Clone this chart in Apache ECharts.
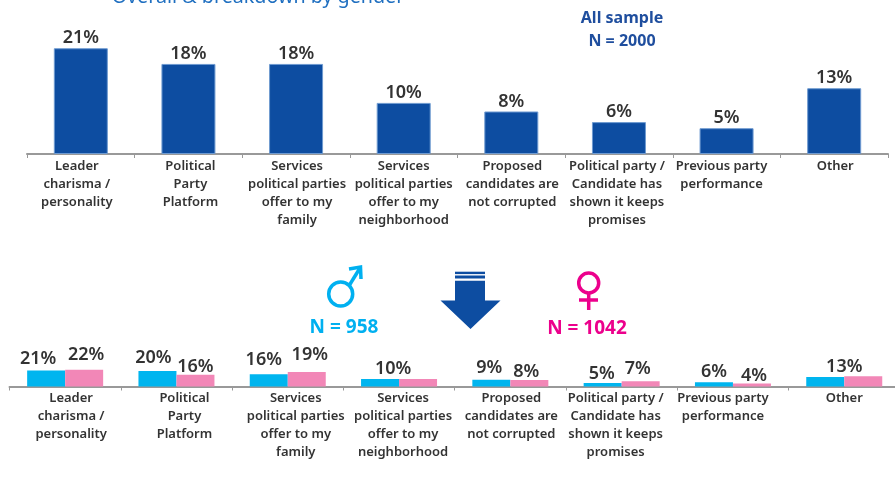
<!DOCTYPE html>
<html><head><meta charset="utf-8">
<style>html,body{margin:0;padding:0;background:#fff;overflow:hidden}#c{width:910px;height:482px}</style>
<script src="https://cdn.jsdelivr.net/npm/echarts@6/dist/echarts.min.js"></script>
</head><body><div id="c"></div>
<script>
const categories = ['Leader\ncharisma /\npersonality','Political\nParty\nPlatform','Services\npolitical parties\noffer to my\nfamily','Services\npolitical parties\noffer to my\nneighborhood','Proposed\ncandidates are\nnot corrupted','Political party /\nCandidate has\nshown it keeps\npromises','Previous party\nperformance','Other'];
const allSample = [20.9,17.8,17.8,10.1,8.4,6.3,5.1,13.0];
const male = [21,20.4,16,10,8.8,4.5,5.6,12.6];
const female = [22,15.6,19,10,8.4,6.8,4,13.4];
const sharedLabel = [3,7];
const topLabelShift = [-4,2,1,0,1,-2,-5,1];
const bottomLabelShift = [6,8,8,4,1,-6,-10,0];
const maleLabelShift = [[-8,-2],[-4,-3],[-5,-4],[13,0],[-2,-2],[-1,1],[0,0],[19,0]];
const femaleLabelShift = [[2,-5],[0,2],[3,-7],[0,0],[-3,2],[-3,-2],[2,2],[0,0]];
const DARK='#0d4da1', BLUE='#00b5ef', PINK='#f287b7', INK='#333', GREY='#999';
const FONT='"Noto Sans"';
const chart = echarts.init(document.getElementById('c'));
const pct = v => Math.round(v)+'%';
const axisData = shift => categories.map((c,i)=>({value:c,textStyle:{padding:shift[i]>=0?[0,0,0,2*shift[i]]:[0,-2*shift[i],0,0]}}));
const xAxisBase = gi => ({type:'category',gridIndex:gi,boundaryGap:true,
  axisLine:{show:true,lineStyle:{color:GREY,width:2}},
  axisTick:{show:true,length:4,lineStyle:{color:GREY,width:1},alignWithLabel:false},
  axisLabel:{interval:0,color:INK,fontFamily:FONT,fontWeight:600,fontSize:13,lineHeight:18,margin:3,hideOverlap:false}});
const lab = (size)=>({show:true,position:'top',distance:1,formatter:p=>pct(p.value),color:INK,fontFamily:FONT,fontWeight:600,fontSize:size});
chart.setOption({
  animation:false,
  grid:[{left:27,top:2.2,width:861,height:151.8},{left:9.5,top:310.5,width:890.4,height:76}],
  xAxis:[Object.assign(xAxisBase(0),{data:axisData(topLabelShift)}),Object.assign(xAxisBase(1),{data:axisData(bottomLabelShift)})],
  yAxis:[{type:'value',gridIndex:0,min:0,max:30,show:false},{type:'value',gridIndex:1,min:0,max:100,show:false}],
  series:[
    {type:'bar',xAxisIndex:0,yAxisIndex:0,barWidth:54,data:allSample,
     itemStyle:{color:DARK,borderColor:'#6f9bd1',borderWidth:1},label:lab(18)},
    {type:'bar',xAxisIndex:1,yAxisIndex:1,barWidth:38,barGap:0,itemStyle:{color:BLUE},
     data:male.map((v,i)=>({value:v,label:{offset:maleLabelShift[i]}})),label:lab(18)},
    {type:'bar',xAxisIndex:1,yAxisIndex:1,barWidth:38,barGap:0,itemStyle:{color:PINK},
     data:female.map((v,i)=>({value:v,label:{offset:femaleLabelShift[i],show:!sharedLabel.includes(i)}})),label:lab(18)}
  ],
  graphic:[
    {type:'text',x:258,y:-3,style:{text:'Overall & breakdown by gender',fill:'#1f6fc0',font:'19.7px '+FONT,align:'center',verticalAlign:'middle'}},
    {type:'text',x:622,y:18,style:{text:'All sample',fill:'#1f4e9e',font:'700 16px '+FONT,align:'center',verticalAlign:'middle'}},
    {type:'text',x:622,y:41,style:{text:'N = 2000',fill:'#1f4e9e',font:'700 16px '+FONT,align:'center',verticalAlign:'middle'}},
    {type:'text',x:344,y:328,style:{text:'N = 958',fill:'#00b0f0',font:'700 19px '+FONT,align:'center',verticalAlign:'middle'}},
    {type:'text',x:587,y:329,style:{text:'N = 1042',fill:'#ec008c',font:'700 19px '+FONT,align:'center',verticalAlign:'middle'}},
    {type:'circle',shape:{cx:340.7,cy:294,r:12},style:{fill:'none',stroke:'#00b0f0',lineWidth:3.5}},
    {type:'polyline',shape:{points:[[349.5,285],[360,268]]},style:{stroke:'#00b0f0',lineWidth:3.5,fill:'none'}},
    {type:'polyline',shape:{points:[[349,269],[360.5,267],[361,279]]},style:{stroke:'#00b0f0',lineWidth:3.5,fill:'none'}},
    {type:'circle',shape:{cx:588.7,cy:283,r:10},style:{fill:'none',stroke:'#ec008c',lineWidth:3.5}},
    {type:'line',shape:{x1:588.7,y1:293,x2:588.7,y2:310},style:{stroke:'#ec008c',lineWidth:3.5}},
    {type:'line',shape:{x1:579,y1:300,x2:598,y2:300},style:{stroke:'#ec008c',lineWidth:3.5}},
    {type:'rect',shape:{x:455,y:271.7,width:30,height:2.4},style:{fill:DARK}},
    {type:'rect',shape:{x:455,y:275.5,width:30,height:3},style:{fill:DARK}},
    {type:'polygon',shape:{points:[[455,280.7],[485,280.7],[485,300.5],[500.5,300.5],[470.5,329],[440.5,300.5],[455,300.5]]},style:{fill:DARK}}
  ]
});
</script></body></html>
